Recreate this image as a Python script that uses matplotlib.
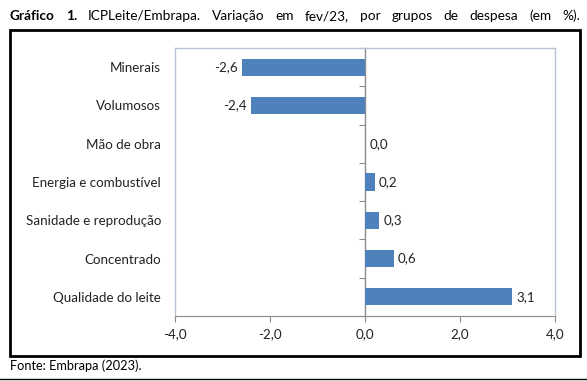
#!/usr/bin/env python
"""ICPLeite/Embrapa: variação em fev/23 por grupos de despesa."""

import matplotlib

matplotlib.use("Agg")
import matplotlib.pyplot as plt
from matplotlib.patches import Rectangle
from matplotlib.lines import Line2D
from matplotlib.ticker import FuncFormatter


CATEGORIES = [
    "Minerais",
    "Volumosos",
    "Mão de obra",
    "Energia e combustível",
    "Sanidade e reprodução",
    "Concentrado",
    "Qualidade do leite",
]
VALUES = [-2.6, -2.4, 0.0, 0.2, 0.3, 0.6, 3.1]
X_TICKS = [-4.0, -2.0, 0.0, 2.0, 4.0]

TITLE_BOLD = ["Gráfico", "1."]
TITLE_WORDS = ["ICPLeite/Embrapa.", "Variação", "em", "fev/23,", "por", "grupos", "de", "despesa", "(em", "%)."]
SOURCE = "Fonte: Embrapa (2023)."

BAR_COLOR = "#4f81bd"
FRAME_COLOR = "#b8c4d4"
AXIS_COLOR = "#8c8c8c"
FONT = ["Lato", "DejaVu Sans"]
LABEL_SIZE = 9.6


def comma(value, _pos=None):
    return f"{value:.1f}".replace(".", ",")


def justified_title(fig, words, bold_count, x0, x1, y, size):
    renderer = fig.canvas.get_renderer()
    texts = []
    for i, word in enumerate(words):
        t = fig.text(0, y, word, fontsize=size, family=FONT,
                     fontweight="bold" if i < bold_count else "normal", va="center", ha="left")
        texts.append(t)
    widths = [t.get_window_extent(renderer).width / fig.dpi / fig.get_figwidth() for t in texts]
    gap = (x1 - x0 - sum(widths)) / (len(texts) - 1)
    x = x0
    for t, w in zip(texts, widths):
        t.set_x(x)
        x += w + gap


def main():
    plt.rcParams["font.family"] = FONT
    fig = plt.figure(figsize=(5.87, 3.81), dpi=100)
    W, H = 587, 381
    ax = fig.add_axes([175 / W, 1 - 316 / H, 380 / W, 268 / H])

    y = list(range(len(CATEGORIES)))
    ax.barh(y, VALUES, height=0.45, color=BAR_COLOR, zorder=3)
    for yi, v in zip(y, VALUES):
        if v < 0:
            ax.annotate(comma(v), (v, yi), xytext=(-3, 0), textcoords="offset points",
                        ha="right", va="center", fontsize=LABEL_SIZE, color="#222222")
        else:
            ax.annotate(comma(v), (v, yi), xytext=(3, 0), textcoords="offset points",
                        ha="left", va="center", fontsize=LABEL_SIZE, color="#222222")

    ax.set_xlim(X_TICKS[0], X_TICKS[-1])
    ax.set_ylim(len(CATEGORIES) - 0.5, -0.5)
    ax.set_xticks(X_TICKS)
    ax.xaxis.set_major_formatter(FuncFormatter(comma))
    ax.set_yticks(y)
    ax.set_yticklabels(CATEGORIES)
    ax.tick_params(axis="y", length=0, pad=10, labelsize=LABEL_SIZE, labelcolor="#222222")
    ax.tick_params(axis="x", length=4, color=AXIS_COLOR, pad=5, labelsize=LABEL_SIZE, labelcolor="#222222")
    for side in ("top", "left", "right"):
        ax.spines[side].set_color(FRAME_COLOR)
        ax.spines[side].set_linewidth(1.0)
    ax.spines["bottom"].set_color(AXIS_COLOR)

    # vertical axis through zero, with small ticks between the categories
    zero_axis = ax.secondary_yaxis(0.5)
    zero_axis.set_alignment("left")
    zero_axis.set_yticks([i - 0.5 for i in range(len(CATEGORIES) + 1)])
    zero_axis.set_yticklabels([])
    zero_axis.tick_params(length=4, color=AXIS_COLOR, direction="out")
    zero_axis.spines["left"].set_color(AXIS_COLOR)
    zero_axis.spines["left"].set_linewidth(1.0)

    fig.patches.append(Rectangle((10 / W, 1 - 356 / H), 570 / W, 326 / H, transform=fig.transFigure,
                                 fill=False, edgecolor="black", linewidth=2.0))
    fig.lines.append(Line2D([0, 1], [1 - 379 / H, 1 - 379 / H], transform=fig.transFigure,
                            color="black", linewidth=1.0))

    justified_title(fig, TITLE_BOLD + TITLE_WORDS, len(TITLE_BOLD), 10 / W, 580 / W, 1 - 16 / H, 9.8)
    fig.text(10 / W, 1 - 366 / H, SOURCE, fontsize=9.2, va="center", ha="left")

    fig.savefig("out.png", dpi=100)
    plt.close(fig)


if __name__ == "__main__":
    main()
